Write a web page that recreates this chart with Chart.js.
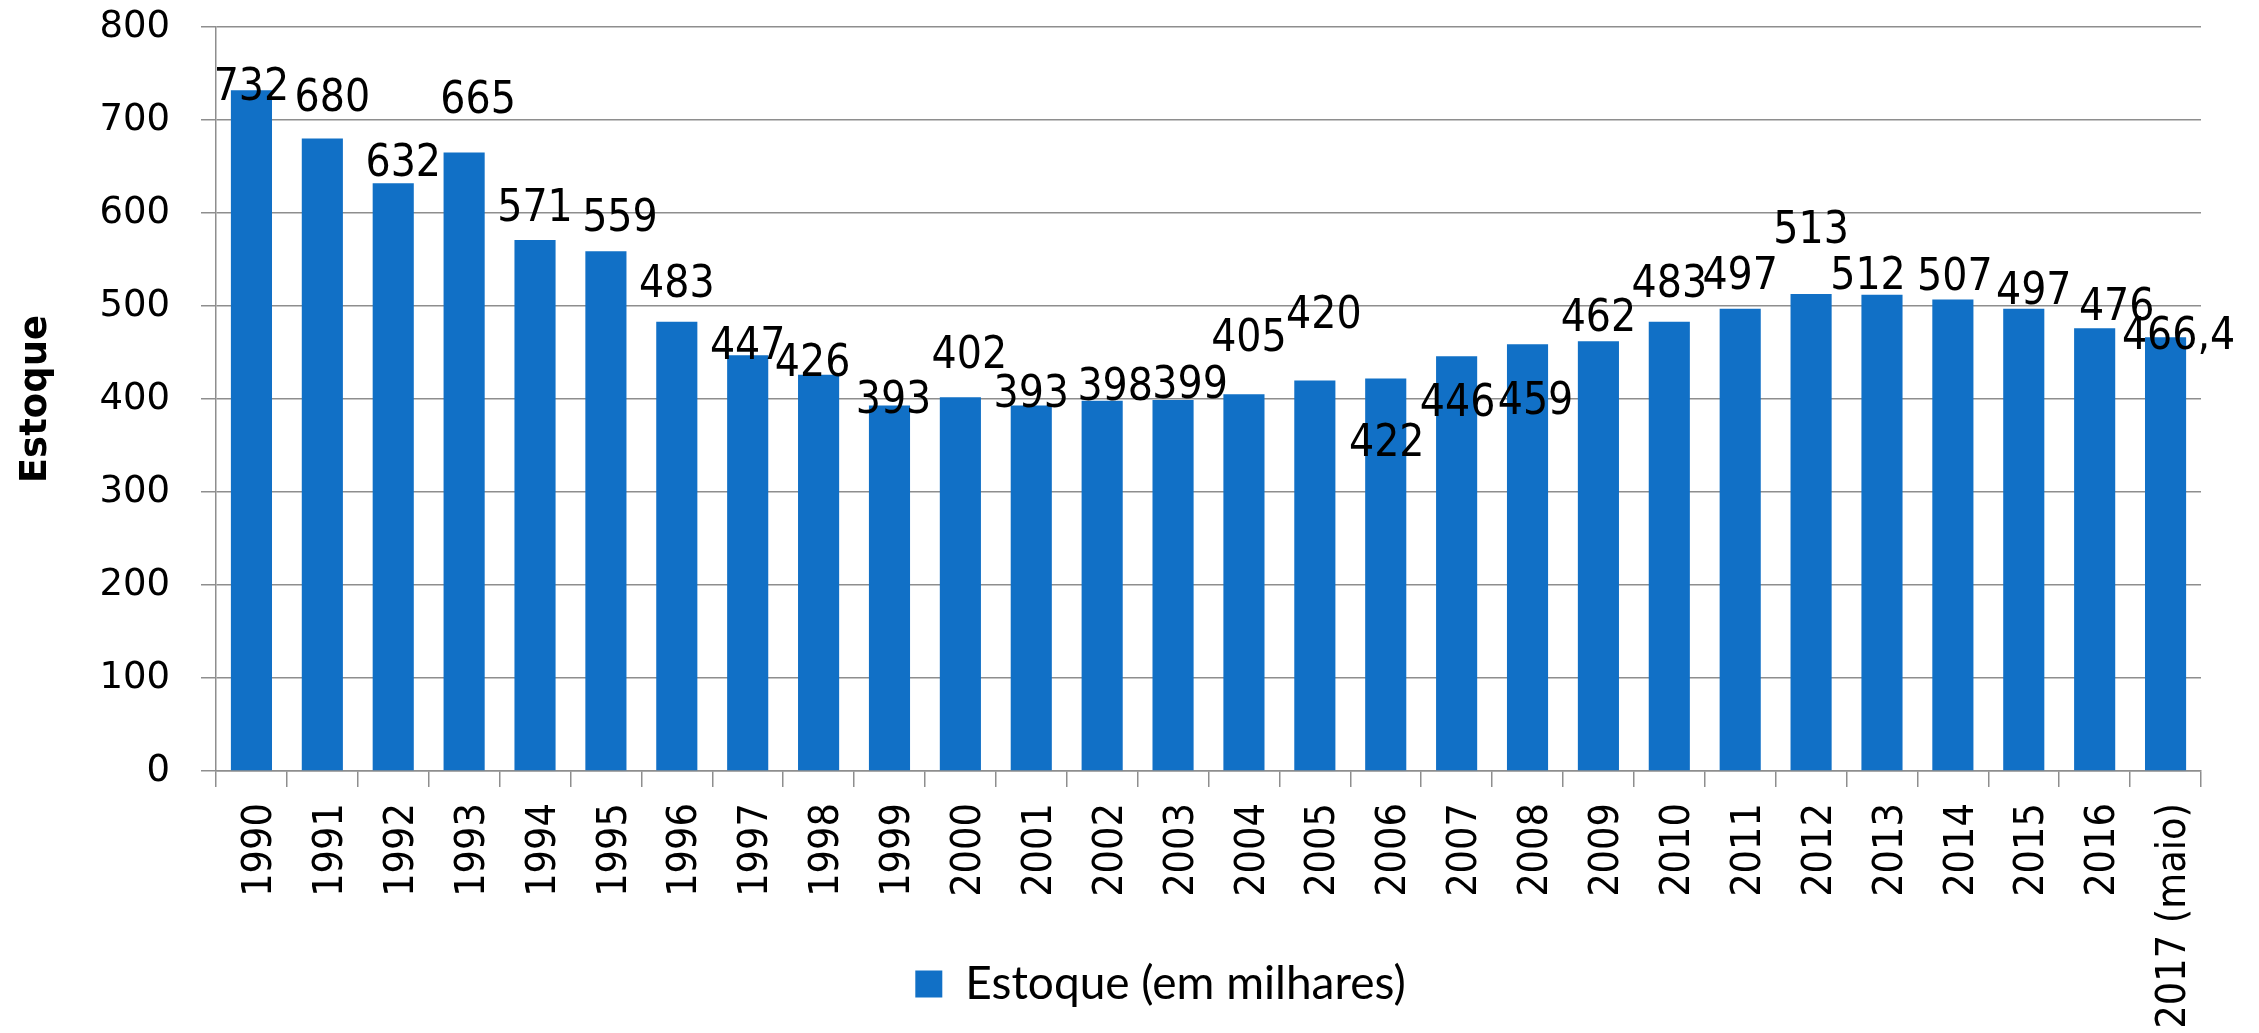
<!DOCTYPE html>
<html>
<head>
<meta charset="utf-8">
<script src="https://cdn.jsdelivr.net/npm/chart.js@4.4.1/dist/chart.umd.min.js"></script>
<style>
    body { margin: 0; background: #ffffff; }
    #wrap { width: 2259px; height: 1033px; }
</style>
</head>
<body>
<div id="wrap">
    <canvas id="myChart" width="2259" height="1033"></canvas>
</div>
<script>
// categories (years)
const years = ['1990', '1991', '1992', '1993', '1994', '1995', '1996', '1997', '1998', '1999',
    '2000', '2001', '2002', '2003', '2004', '2005', '2006', '2007', '2008', '2009',
    '2010', '2011', '2012', '2013', '2014', '2015', '2016', '2017 (maio)'];

// stock, in thousands
const stock = [732, 680, 632, 665, 571, 559, 483, 447, 426, 393,
    402, 393, 398, 399, 405, 420, 422, 446, 459, 462,
    483, 497, 513, 512, 507, 497, 476, 466.4];

const seriesName = 'Estoque (em milhares)';
const axisTitle = 'Estoque';
const yTicks = [0, 100, 200, 300, 400, 500, 600, 700, 800];

const barColor = '#1170c6';
const gridColor = '#8e8e8e';
const condensed = "'DejaVu Sans Condensed', 'DejaVu Sans', sans-serif";

// the value labels were moved by hand in the original, so each one gets a small nudge
// [dx, dy] in px from the top centre of its bar
const labelNudge = [
    [0, -2], [10, -39], [10, -19], [14, -51], [0, -30], [14, -32], [0, -36], [0, -8],
    [-6, -10], [4, -4], [9, -41], [0, -10], [13, -12], [17, -13], [5, -55], [9, -64],
    [1, 66], [1, 48], [8, 58], [0, -22], [0, -36], [0, -31], [0, -62], [-14, -17],
    [2, -21], [10, -16], [22, -20], [13, 0]
];

// draws the numbers above the bars
const valueLabels = {
    id: 'valueLabels',
    afterDatasetsDraw(chart) {
        const c = chart.ctx;
        const meta = chart.getDatasetMeta(0);
        c.save();
        c.font = '44px ' + condensed;
        c.fillStyle = '#000000';
        c.textAlign = 'center';
        c.textBaseline = 'middle';
        meta.data.forEach((bar, i) => {
            const txt = String(stock[i]).replace('.', ',');
            const n = labelNudge[i] || [0, -20];
            c.fillText(txt, bar.x + n[0], bar.y + n[1]);
        });
        c.restore();
    }
};

const layoutTweaks = {
    id: 'layoutTweaks',
    afterLayout(chart) {
        // the legend sits a bit right of the middle in the original
        if (chart.legend) {
            chart.legend.left += 60;
            chart.legend.right += 60;
        }
        // let the long last year label run down past the legend row (no clipping)
        chart.scales.x.bottom = chart.height;
    }
};

const ctx = document.getElementById('myChart').getContext('2d');

const myChart = new Chart(ctx, {
    type: 'bar',
    data: {
        labels: years,
        datasets: [{
            label: seriesName,
            data: stock,
            backgroundColor: barColor,
            borderWidth: 0,
            barPercentage: 0.58,
            categoryPercentage: 1.0
        }]
    },
    options: {
        responsive: false,
        animation: false,
        layout: {
            padding: { top: 27, right: 58, bottom: 16, left: 0 }
        },
        scales: {
            x: {
                afterFit(scale) { scale.height = 180; },
                grid: {
                    display: true,
                    drawOnChartArea: false,
                    drawTicks: true,
                    tickLength: 16,
                    color: gridColor,
                    lineWidth: 1.5,
                    offset: true
                },
                border: { display: true, color: gridColor, width: 1.5 },
                ticks: {
                    autoSkip: false,
                    maxRotation: 90,
                    minRotation: 90,
                    padding: 16,
                    labelOffset: 9,
                    color: '#000000',
                    font: { size: 41, family: condensed }
                }
            },
            y: {
                min: 0,
                max: 800,
                afterFit(scale) {
                    scale.width = 216;
                    // tick padding would otherwise push the plot top down
                    scale.paddingTop = 10;
                    scale.paddingBottom = 10;
                },
                afterBuildTicks(scale) {
                    scale.ticks = yTicks.map(v => ({ value: v }));
                },
                grid: {
                    color: gridColor,
                    lineWidth: 1.5,
                    drawTicks: true,
                    tickLength: 15
                },
                border: { display: true, color: gridColor, width: 1.5 },
                ticks: {
                    padding: 31,
                    color: '#000000',
                    font: { size: 37, family: "'DejaVu Sans', sans-serif" }
                },
                title: {
                    display: true,
                    text: axisTitle,
                    color: '#000000',
                    padding: { top: 14, bottom: 0 },
                    font: { size: 37, weight: 'bold', family: "'DejaVu Sans', sans-serif" }
                }
            }
        },
        plugins: {
            legend: {
                display: true,
                position: 'bottom',
                labels: {
                    boxWidth: 27,
                    boxHeight: 27,
                    color: '#000000',
                    font: { size: 46, family: "Lato, 'Open Sans', sans-serif" }
                }
            },
            tooltip: { enabled: false }
        }
    },
    plugins: [valueLabels, layoutTweaks]
});
</script>
</body>
</html>
